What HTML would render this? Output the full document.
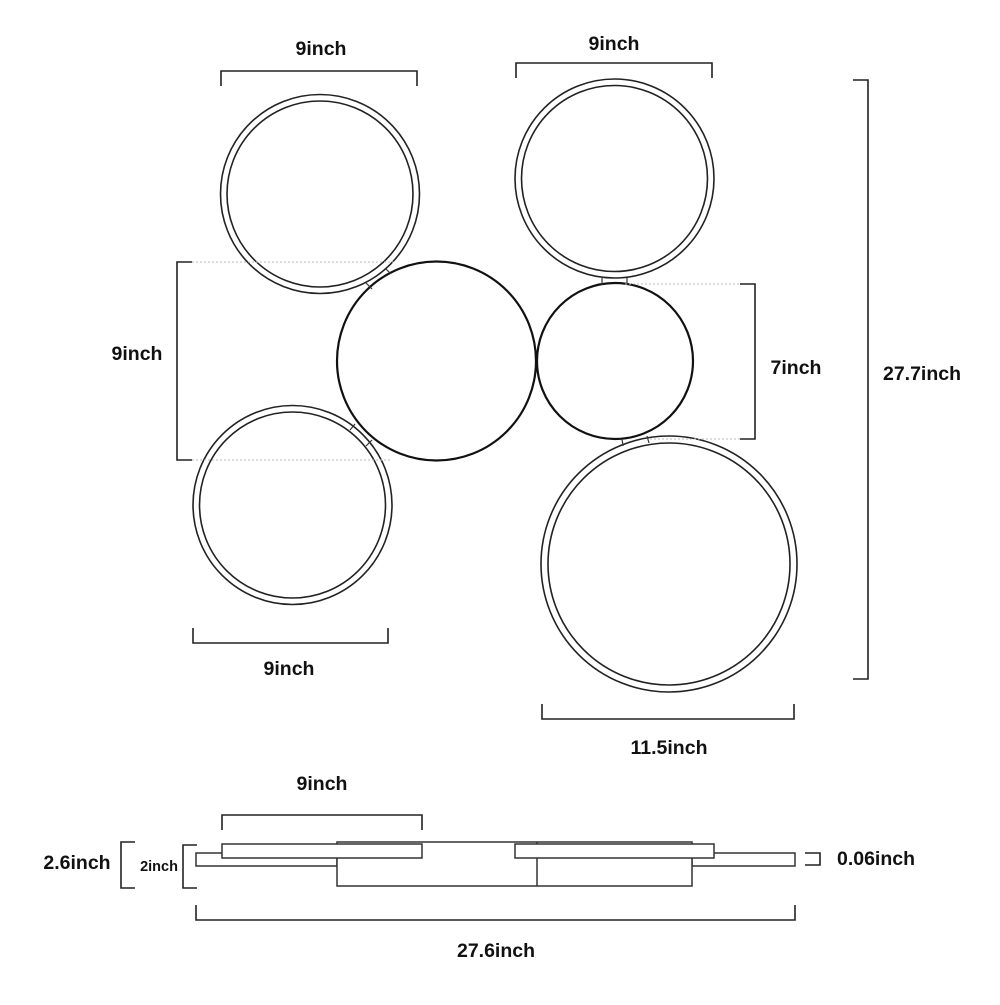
<!DOCTYPE html>
<html><head><meta charset="utf-8"><style>
html,body{margin:0;padding:0;background:#fff;}
text{font-family:"Liberation Sans","DejaVu Sans",sans-serif;font-weight:bold;fill:#111;}
</style></head><body>
<svg width="1000" height="1000" viewBox="0 0 1000 1000" xmlns="http://www.w3.org/2000/svg">
<g fill="none" stroke="#222" stroke-width="1.6">
<circle cx="320" cy="194" r="99.5"/><circle cx="320" cy="194" r="93"/>
<circle cx="614.5" cy="178.5" r="99.5"/><circle cx="614.5" cy="178.5" r="93"/>
<circle cx="292.5" cy="505" r="99.5"/><circle cx="292.5" cy="505" r="93"/>
<circle cx="669" cy="564" r="128"/><circle cx="669" cy="564" r="121"/>
</g>
<g fill="none" stroke="#111" stroke-width="2.2">
<circle cx="436.5" cy="361" r="99.5"/>
<circle cx="615" cy="361" r="78"/>
</g>
<g stroke="#333" stroke-width="1.2">
<line x1="366" y1="283" x2="372" y2="289"/><line x1="385" y1="268" x2="391" y2="274"/>
<line x1="602" y1="278" x2="602" y2="285"/><line x1="627" y1="278" x2="627" y2="285"/>
<line x1="355" y1="424" x2="350" y2="430"/><line x1="372" y1="440" x2="366" y2="446"/>
<line x1="622" y1="439" x2="623" y2="446"/><line x1="647" y1="436" x2="649" y2="443"/>
</g>
<g stroke="#bbb" stroke-width="1" stroke-dasharray="2,2">
<line x1="192" y1="262" x2="395" y2="262"/>
<line x1="192" y1="460" x2="390" y2="460"/>
<line x1="625" y1="284" x2="740" y2="284"/>
<line x1="650" y1="439" x2="740" y2="439"/>
</g>
<g fill="none" stroke="#222" stroke-width="1.6">
<polyline points="221,86 221,71 417,71 417,86"/>
<polyline points="516,78 516,63 712,63 712,78"/>
<polyline points="192,262 177,262 177,460 192,460"/>
<polyline points="740,284 755,284 755,439 740,439"/>
<polyline points="853,80 868,80 868,679 853,679"/>
<polyline points="193,628 193,643 388,643 388,628"/>
<polyline points="542,704 542,719 794,719 794,704"/>
<polyline points="222,830 222,815 422,815 422,830"/>
<polyline points="135,842 121,842 121,888 135,888"/>
<polyline points="197,845 183,845 183,888 197,888"/>
<polyline points="805,853 820,853 820,865 805,865"/>
<polyline points="196,905 196,920 795,920 795,905"/>
</g>
<g fill="#fff" stroke="#333" stroke-width="1.5">
<rect x="196" y="853" width="141" height="13"/>
<rect x="692" y="853" width="103" height="13"/>
<rect x="337" y="842" width="355" height="44"/>
<line x1="537" y1="842" x2="537" y2="886"/>
<rect x="222" y="844" width="200" height="14"/>
<rect x="515" y="844" width="199" height="14"/>
</g>
<g font-size="19.5">
<text x="321" y="55" text-anchor="middle">9inch</text>
<text x="614" y="50" text-anchor="middle">9inch</text>
<text x="137" y="360" text-anchor="middle">9inch</text>
<text x="796" y="374" text-anchor="middle">7inch</text>
<text x="922" y="380" text-anchor="middle">27.7inch</text>
<text x="289" y="675" text-anchor="middle">9inch</text>
<text x="669" y="754" text-anchor="middle">11.5inch</text>
<text x="322" y="790" text-anchor="middle">9inch</text>
<text x="77" y="869" text-anchor="middle">2.6inch</text>
<text x="876" y="865" text-anchor="middle">0.06inch</text>
<text x="496" y="957" text-anchor="middle">27.6inch</text>
</g>
<text x="159" y="871" font-size="14.5" text-anchor="middle">2inch</text>
</svg>
</body></html>
